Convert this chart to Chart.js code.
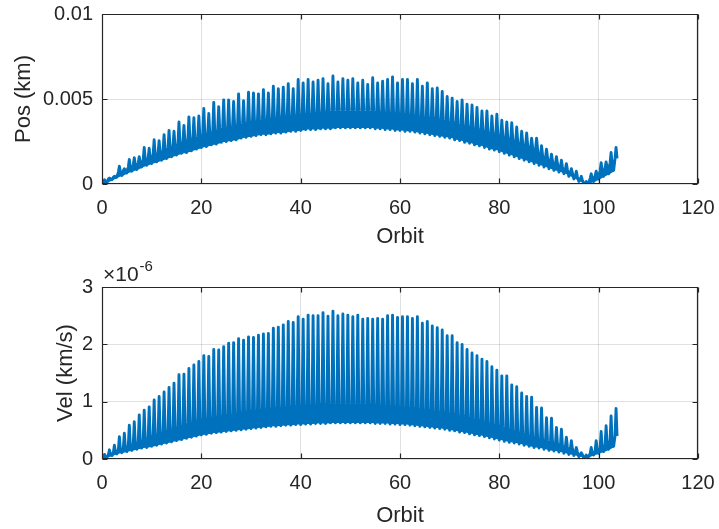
<!DOCTYPE html>
<html>
<head>
<meta charset="utf-8">
<script src="https://cdn.jsdelivr.net/npm/chart.js@4/dist/chart.umd.min.js"></script>
<style>
  html, body { margin: 0; padding: 0; background: #ffffff; }
  #wrap { position: relative; width: 719px; height: 529px; }
  canvas { position: absolute; left: 0; }
  #posChart { top: 0; }
  #velChart { top: 250px; }
</style>
</head>
<body>
<div id="wrap">
  <canvas id="posChart" width="719" height="250"></canvas>
  <canvas id="velChart" width="719" height="279"></canvas>
</div>
<script>
// Per-orbit position error (km): trough, top of the dense band, and spike peak
const posLow = [
  0.00e-3, 0.10e-3, 0.25e-3, 0.40e-3, 0.50e-3, 0.65e-3, 0.75e-3, 0.85e-3, 1.00e-3, 1.10e-3,
  1.20e-3, 1.30e-3, 1.40e-3, 1.50e-3, 1.60e-3, 1.70e-3, 1.80e-3, 1.85e-3, 1.95e-3, 2.05e-3,
  2.15e-3, 2.20e-3, 2.30e-3, 2.35e-3, 2.45e-3, 2.50e-3, 2.55e-3, 2.60e-3, 2.70e-3, 2.75e-3,
  2.80e-3, 2.85e-3, 2.90e-3, 2.90e-3, 2.95e-3, 3.00e-3, 3.00e-3, 3.05e-3, 3.10e-3, 3.10e-3,
  3.15e-3, 3.20e-3, 3.20e-3, 3.20e-3, 3.25e-3, 3.25e-3, 3.25e-3, 3.30e-3, 3.30e-3, 3.30e-3,
  3.30e-3, 3.30e-3, 3.30e-3, 3.30e-3, 3.30e-3, 3.25e-3, 3.25e-3, 3.20e-3, 3.20e-3, 3.15e-3,
  3.15e-3, 3.10e-3, 3.10e-3, 3.05e-3, 3.00e-3, 2.95e-3, 2.90e-3, 2.85e-3, 2.80e-3, 2.75e-3,
  2.70e-3, 2.60e-3, 2.55e-3, 2.45e-3, 2.40e-3, 2.30e-3, 2.25e-3, 2.15e-3, 2.05e-3, 2.00e-3,
  1.90e-3, 1.80e-3, 1.70e-3, 1.60e-3, 1.50e-3, 1.40e-3, 1.30e-3, 1.20e-3, 1.10e-3, 1.00e-3,
  0.90e-3, 0.80e-3, 0.70e-3, 0.60e-3, 0.45e-3, 0.30e-3, 0.15e-3, 0.00e-3, 0.05e-3, 0.15e-3,
  0.30e-3, 0.45e-3, 0.60e-3, 0.80e-3
];
const posBand = [
  0.15e-3, 0.30e-3, 0.40e-3, 0.70e-3, 0.80e-3, 1.00e-3, 1.15e-3, 1.25e-3, 1.45e-3, 1.55e-3,
  1.75e-3, 1.85e-3, 2.00e-3, 2.15e-3, 2.25e-3, 2.40e-3, 2.50e-3, 2.65e-3, 2.70e-3, 2.80e-3,
  2.95e-3, 3.00e-3, 3.10e-3, 3.20e-3, 3.30e-3, 3.35e-3, 3.45e-3, 3.50e-3, 3.55e-3, 3.65e-3,
  3.70e-3, 3.75e-3, 3.80e-3, 3.85e-3, 3.90e-3, 3.95e-3, 4.00e-3, 4.05e-3, 4.05e-3, 4.10e-3,
  4.15e-3, 4.15e-3, 4.20e-3, 4.20e-3, 4.25e-3, 4.25e-3, 4.30e-3, 4.30e-3, 4.30e-3, 4.30e-3,
  4.30e-3, 4.30e-3, 4.30e-3, 4.30e-3, 4.30e-3, 4.25e-3, 4.25e-3, 4.25e-3, 4.20e-3, 4.20e-3,
  4.15e-3, 4.10e-3, 4.10e-3, 4.05e-3, 4.00e-3, 3.95e-3, 3.90e-3, 3.85e-3, 3.80e-3, 3.70e-3,
  3.65e-3, 3.55e-3, 3.50e-3, 3.40e-3, 3.35e-3, 3.25e-3, 3.15e-3, 3.10e-3, 3.00e-3, 2.95e-3,
  2.85e-3, 2.75e-3, 2.65e-3, 2.50e-3, 2.40e-3, 2.30e-3, 2.15e-3, 2.05e-3, 1.70e-3, 1.55e-3,
  1.35e-3, 1.20e-3, 1.00e-3, 0.85e-3, 0.65e-3, 0.45e-3, 0.25e-3, 0.05e-3, 0.35e-3, 0.50e-3,
  0.80e-3, 0.95e-3, 1.25e-3, 1.50e-3
];
const posPeak = [
  0.25e-3, 0.35e-3, 0.45e-3, 1.05e-3, 0.90e-3, 1.45e-3, 1.55e-3, 1.60e-3, 2.15e-3, 2.10e-3,
  2.60e-3, 2.55e-3, 2.90e-3, 3.15e-3, 3.10e-3, 3.65e-3, 3.45e-3, 3.95e-3, 3.90e-3, 4.00e-3,
  4.45e-3, 4.15e-3, 4.80e-3, 4.55e-3, 4.95e-3, 4.95e-3, 4.85e-3, 5.30e-3, 4.90e-3, 5.40e-3,
  5.35e-3, 5.30e-3, 5.55e-3, 5.35e-3, 5.75e-3, 5.60e-3, 5.70e-3, 5.90e-3, 5.60e-3, 6.15e-3,
  5.95e-3, 6.15e-3, 6.00e-3, 6.10e-3, 6.20e-3, 5.90e-3, 6.35e-3, 6.00e-3, 6.20e-3, 6.10e-3,
  6.20e-3, 5.95e-3, 6.10e-3, 5.85e-3, 6.25e-3, 5.95e-3, 6.05e-3, 6.15e-3, 6.30e-3, 5.95e-3,
  6.15e-3, 6.15e-3, 5.90e-3, 6.15e-3, 5.75e-3, 5.95e-3, 5.60e-3, 5.65e-3, 5.45e-3, 5.15e-3,
  5.05e-3, 4.85e-3, 4.95e-3, 4.70e-3, 4.65e-3, 4.50e-3, 4.30e-3, 4.30e-3, 4.00e-3, 4.10e-3,
  3.75e-3, 3.65e-3, 3.60e-3, 3.35e-3, 3.10e-3, 3.00e-3, 2.70e-3, 2.70e-3, 2.25e-3, 2.05e-3,
  1.75e-3, 1.60e-3, 1.40e-3, 1.20e-3, 0.90e-3, 0.75e-3, 0.45e-3, 0.15e-3, 0.60e-3, 0.75e-3,
  1.25e-3, 1.30e-3, 1.85e-3, 2.15e-3
];

// Per-orbit velocity error (km/s): trough, top of the dense band, and spike peak
const velLow = [
  0.00e-6, 0.03e-6, 0.06e-6, 0.09e-6, 0.11e-6, 0.13e-6, 0.15e-6, 0.17e-6, 0.19e-6, 0.20e-6,
  0.22e-6, 0.24e-6, 0.26e-6, 0.28e-6, 0.30e-6, 0.32e-6, 0.34e-6, 0.36e-6, 0.38e-6, 0.40e-6,
  0.42e-6, 0.43e-6, 0.45e-6, 0.46e-6, 0.47e-6, 0.48e-6, 0.49e-6, 0.50e-6, 0.51e-6, 0.52e-6,
  0.53e-6, 0.54e-6, 0.55e-6, 0.56e-6, 0.57e-6, 0.57e-6, 0.58e-6, 0.59e-6, 0.59e-6, 0.60e-6,
  0.60e-6, 0.61e-6, 0.61e-6, 0.62e-6, 0.62e-6, 0.62e-6, 0.63e-6, 0.63e-6, 0.63e-6, 0.63e-6,
  0.63e-6, 0.63e-6, 0.63e-6, 0.63e-6, 0.63e-6, 0.62e-6, 0.62e-6, 0.62e-6, 0.61e-6, 0.61e-6,
  0.60e-6, 0.60e-6, 0.59e-6, 0.58e-6, 0.57e-6, 0.56e-6, 0.55e-6, 0.54e-6, 0.53e-6, 0.52e-6,
  0.50e-6, 0.49e-6, 0.47e-6, 0.46e-6, 0.44e-6, 0.42e-6, 0.41e-6, 0.39e-6, 0.37e-6, 0.35e-6,
  0.33e-6, 0.31e-6, 0.29e-6, 0.28e-6, 0.26e-6, 0.24e-6, 0.22e-6, 0.20e-6, 0.19e-6, 0.17e-6,
  0.15e-6, 0.14e-6, 0.12e-6, 0.10e-6, 0.08e-6, 0.06e-6, 0.04e-6, 0.02e-6, 0.04e-6, 0.07e-6,
  0.10e-6, 0.13e-6, 0.17e-6, 0.22e-6
];
const velBand = [
  0.03e-6, 0.08e-6, 0.12e-6, 0.17e-6, 0.20e-6, 0.24e-6, 0.27e-6, 0.31e-6, 0.34e-6, 0.38e-6,
  0.42e-6, 0.45e-6, 0.48e-6, 0.51e-6, 0.54e-6, 0.57e-6, 0.60e-6, 0.63e-6, 0.66e-6, 0.68e-6,
  0.71e-6, 0.72e-6, 0.74e-6, 0.75e-6, 0.77e-6, 0.78e-6, 0.80e-6, 0.81e-6, 0.82e-6, 0.84e-6,
  0.85e-6, 0.86e-6, 0.87e-6, 0.88e-6, 0.89e-6, 0.90e-6, 0.91e-6, 0.92e-6, 0.93e-6, 0.93e-6,
  0.94e-6, 0.95e-6, 0.95e-6, 0.96e-6, 0.96e-6, 0.96e-6, 0.97e-6, 0.97e-6, 0.97e-6, 0.97e-6,
  0.97e-6, 0.97e-6, 0.97e-6, 0.96e-6, 0.96e-6, 0.95e-6, 0.95e-6, 0.94e-6, 0.93e-6, 0.92e-6,
  0.91e-6, 0.90e-6, 0.89e-6, 0.88e-6, 0.87e-6, 0.86e-6, 0.84e-6, 0.83e-6, 0.82e-6, 0.81e-6,
  0.79e-6, 0.77e-6, 0.75e-6, 0.73e-6, 0.71e-6, 0.69e-6, 0.66e-6, 0.64e-6, 0.61e-6, 0.59e-6,
  0.56e-6, 0.53e-6, 0.50e-6, 0.48e-6, 0.45e-6, 0.42e-6, 0.40e-6, 0.37e-6, 0.35e-6, 0.32e-6,
  0.30e-6, 0.27e-6, 0.24e-6, 0.21e-6, 0.18e-6, 0.13e-6, 0.08e-6, 0.04e-6, 0.10e-6, 0.15e-6,
  0.20e-6, 0.26e-6, 0.33e-6, 0.40e-6
];
const velPeak = [
  0.08e-6, 0.16e-6, 0.24e-6, 0.39e-6, 0.45e-6, 0.59e-6, 0.65e-6, 0.77e-6, 0.85e-6, 0.91e-6,
  1.03e-6, 1.09e-6, 1.17e-6, 1.25e-6, 1.32e-6, 1.47e-6, 1.48e-6, 1.58e-6, 1.64e-6, 1.70e-6,
  1.80e-6, 1.79e-6, 1.91e-6, 1.90e-6, 1.96e-6, 2.02e-6, 2.03e-6, 2.10e-6, 2.07e-6, 2.13e-6,
  2.12e-6, 2.16e-6, 2.18e-6, 2.19e-6, 2.28e-6, 2.30e-6, 2.34e-6, 2.40e-6, 2.38e-6, 2.48e-6,
  2.44e-6, 2.51e-6, 2.50e-6, 2.50e-6, 2.55e-6, 2.49e-6, 2.58e-6, 2.50e-6, 2.53e-6, 2.51e-6,
  2.48e-6, 2.51e-6, 2.44e-6, 2.45e-6, 2.44e-6, 2.45e-6, 2.44e-6, 2.50e-6, 2.51e-6, 2.47e-6,
  2.48e-6, 2.48e-6, 2.45e-6, 2.48e-6, 2.37e-6, 2.40e-6, 2.32e-6, 2.29e-6, 2.25e-6, 2.15e-6,
  2.15e-6, 2.03e-6, 2.00e-6, 1.91e-6, 1.85e-6, 1.80e-6, 1.74e-6, 1.70e-6, 1.61e-6, 1.55e-6,
  1.45e-6, 1.45e-6, 1.29e-6, 1.26e-6, 1.15e-6, 1.09e-6, 1.08e-6, 0.90e-6, 0.89e-6, 0.72e-6,
  0.71e-6, 0.55e-6, 0.52e-6, 0.38e-6, 0.32e-6, 0.20e-6, 0.11e-6, 0.07e-6, 0.20e-6, 0.32e-6,
  0.48e-6, 0.58e-6, 0.75e-6, 0.88e-6
];

// Axis ticks
const orbitTicks = [0, 20, 40, 60, 80, 100, 120];
const posTicks = [0, 0.005, 0.01];
const velTicks = [0, 1e-6, 2e-6, 3e-6];

const LINE_BLUE = '#0072BD';
const INK = '#262626';
const GRID = 'rgba(38,38,38,0.14)';
const FONT = "'Liberation Sans', Arial, Helvetica, sans-serif";

// One orbit: trough -> band -> sharp spike -> band, then on to the next trough
function orbitTrace(low, band, peak) {
  const pts = [];
  for (let i = 0; i < low.length; i++) {
    pts.push({ x: i, y: low[i] });
    pts.push({ x: i + 0.3, y: band[i] });
    pts.push({ x: i + 0.5, y: peak[i] });
    pts.push({ x: i + 0.7, y: band[i] });
  }
  return pts;
}

// Envelope points for the densely oscillating part of each orbit
function envelope(values) {
  return values.map((v, i) => ({ x: i + 0.35, y: v }));
}

// Trace on top, with the dense band drawn as a filled area between its edges
function orbitDatasets(low, band, peak) {
  return [
    { data: orbitTrace(low, band, peak), borderColor: LINE_BLUE, borderWidth: 2.9,
      borderJoinStyle: 'round', fill: false, order: 0 },
    { data: envelope(low), borderWidth: 0, borderColor: 'rgba(0,0,0,0)', fill: false, order: 2 },
    { data: envelope(band), borderWidth: 0, borderColor: 'rgba(0,0,0,0)',
      backgroundColor: LINE_BLUE, fill: '-1', order: 1 }
  ];
}

// Box around the plot area with inward tick marks on all four sides
const boxFrame = {
  id: 'boxFrame',
  afterDraw(chart, args, opts) {
    const { ctx, chartArea: a, scales } = chart;
    const xs = scales.x, ys = scales.y;
    const L = Math.round(a.left) + 0.5, R = Math.round(a.right) - 0.5;
    const T = Math.round(a.top) + 0.5, B = Math.round(a.bottom) - 0.5;
    ctx.save();
    ctx.strokeStyle = INK;
    ctx.lineWidth = 1.2;
    ctx.beginPath();
    ctx.rect(L, T, R - L, B - T);
    const tl = 5;
    xs.ticks.forEach(t => {
      const px = Math.round(xs.getPixelForValue(t.value)) + 0.5;
      ctx.moveTo(px, B); ctx.lineTo(px, B - tl);
      ctx.moveTo(px, T); ctx.lineTo(px, T + tl);
    });
    ys.ticks.forEach(t => {
      const py = Math.round(ys.getPixelForValue(t.value)) + 0.5;
      ctx.moveTo(L, py); ctx.lineTo(L + tl, py);
      ctx.moveTo(R, py); ctx.lineTo(R - tl, py);
    });
    ctx.stroke();
    if (opts && opts.exponent) {
      ctx.fillStyle = INK;
      ctx.textBaseline = 'alphabetic';
      ctx.textAlign = 'left';
      ctx.font = '21px ' + FONT;
      const bx = a.left + 1, by = a.top - 6;
      ctx.fillText('\u00d710', bx, by);
      const w = ctx.measureText('\u00d710').width;
      ctx.font = '15px ' + FONT;
      ctx.fillText(opts.exponent, bx + w + 1, by - 10);
    }
    ctx.restore();
  }
};

function makeOptions(cfg) {
  return {
    responsive: false,
    animation: false,
    devicePixelRatio: 1,
    layout: { padding: cfg.padding },
    plugins: {
      legend: { display: false },
      tooltip: { enabled: false },
      boxFrame: { exponent: cfg.exponent || null }
    },
    elements: { point: { radius: 0 }, line: { tension: 0 } },
    scales: {
      x: {
        type: 'linear',
        min: 0, max: 120,
        afterBuildTicks: s => { s.ticks = orbitTicks.map(v => ({ value: v })); },
        grid: { color: GRID, lineWidth: 1, drawTicks: false },
        border: { display: false },
        ticks: { color: INK, font: { family: FONT, size: 20 }, padding: cfg.xTickPad, maxRotation: 0,
                 callback: v => String(v) },
        title: { display: true, text: 'Orbit', color: INK, font: { family: FONT, size: 22 },
                 padding: { top: cfg.xTitlePad, bottom: 0 } },
        afterFit: s => { s.height = cfg.xHeight; s.paddingLeft = 0; s.paddingRight = 0; }
      },
      y: {
        type: 'linear',
        min: cfg.yMin, max: cfg.yMax,
        afterBuildTicks: s => { s.ticks = cfg.yTicks.map(v => ({ value: v })); },
        grid: { color: GRID, lineWidth: 1, drawTicks: false },
        border: { display: false },
        ticks: { color: INK, font: { family: FONT, size: 20 }, padding: 9, callback: cfg.yFmt },
        title: { display: true, text: cfg.yTitle, color: INK, font: { family: FONT, size: 22 },
                 padding: { top: cfg.yTitlePad, bottom: 0 } },
        afterFit: s => { s.width = 102; s.paddingTop = 0; s.paddingBottom = 0; }
      }
    }
  };
}

new Chart(document.getElementById('posChart'), {
  type: 'line',
  data: { datasets: orbitDatasets(posLow, posBand, posPeak) },
  options: makeOptions({
    padding: { left: 0, right: 21, top: 14, bottom: 0 },
    xHeight: 66, xTickPad: 12, xTitlePad: 9,
    yMin: 0, yMax: 0.01, yTicks: posTicks,
    yFmt: v => (v === 0 ? '0' : String(+v.toFixed(3))),
    yTitle: 'Pos (km)', yTitlePad: 11
  }),
  plugins: [boxFrame]
});

new Chart(document.getElementById('velChart'), {
  type: 'line',
  data: { datasets: orbitDatasets(velLow, velBand, velPeak) },
  options: makeOptions({
    padding: { left: 0, right: 21, top: 37, bottom: 0 },
    xHeight: 70, xTickPad: 12, xTitlePad: 4,
    yMin: 0, yMax: 3e-6, yTicks: velTicks,
    yFmt: v => String(Math.round(v / 1e-6)),
    yTitle: 'Vel (km/s)', yTitlePad: 53,
    exponent: '-6'
  }),
  plugins: [boxFrame]
});
</script>
</body>
</html>
